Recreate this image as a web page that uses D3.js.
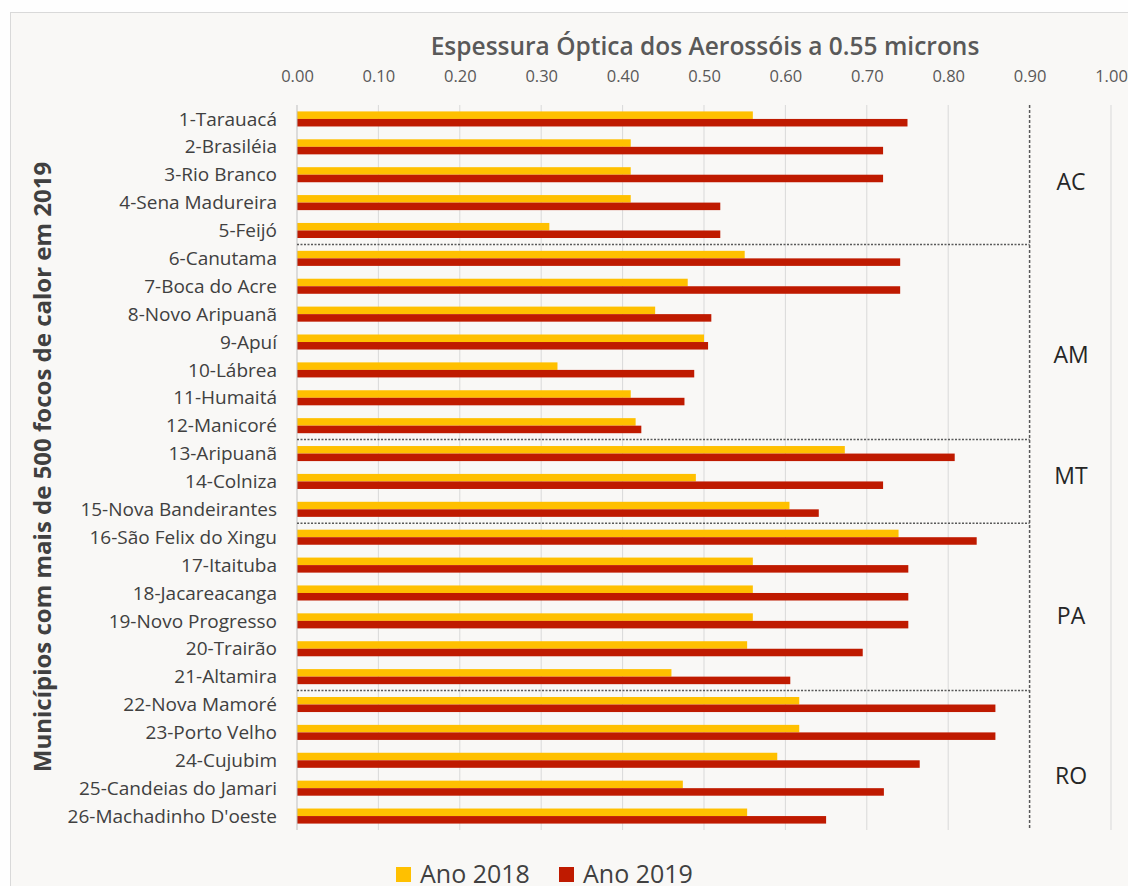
<!DOCTYPE html>
<html>
<head>
<meta charset="utf-8">
<script src="https://cdn.jsdelivr.net/npm/d3@7"></script>
<style>
  html, body { margin: 0; padding: 0; background: #fefefe; }
  svg { display: block; font-family: "Open Sans", sans-serif; }
</style>
</head>
<body>
<svg width="1128" height="886"></svg>
<script>
// Municipalities (ordered as in the chart)
const categories = [
  '1-Tarauacá', '2-Brasiléia', '3-Rio Branco', '4-Sena Madureira', '5-Feijó',
  '6-Canutama', '7-Boca do Acre', '8-Novo Aripuanã', '9-Apuí', '10-Lábrea',
  '11-Humaitá', '12-Manicoré', '13-Aripuanã', '14-Colniza', '15-Nova Bandeirantes',
  '16-São Felix do Xingu', '17-Itaituba', '18-Jacareacanga', '19-Novo Progresso',
  '20-Trairão', '21-Altamira', '22-Nova Mamoré', '23-Porto Velho', '24-Cujubim',
  '25-Candeias do Jamari', "26-Machadinho D'oeste"
];

const ano2018 = [
  0.56, 0.41, 0.41, 0.41, 0.31, 0.55, 0.48, 0.44, 0.50, 0.32, 0.41, 0.416, 0.673,
  0.49, 0.605, 0.739, 0.56, 0.56, 0.56, 0.553, 0.46, 0.617, 0.617, 0.59, 0.474, 0.553
];

const ano2019 = [
  0.75, 0.72, 0.72, 0.52, 0.52, 0.741, 0.741, 0.509, 0.505, 0.488, 0.476, 0.423, 0.808,
  0.72, 0.641, 0.835, 0.751, 0.751, 0.751, 0.695, 0.606, 0.858, 0.858, 0.765, 0.721, 0.65
];

const seriesNames = ['Ano 2018', 'Ano 2019'];
const seriesColors = ['#ffc000', '#bf1a00'];

// States and how many municipalities belong to each
const states = ['AC', 'AM', 'MT', 'PA', 'RO'];
const stateCounts = [5, 7, 3, 6, 5];

const tickValues = [0, 0.1, 0.2, 0.3, 0.4, 0.5, 0.6, 0.7, 0.8, 0.9, 1.0];
const limitValue = 0.9;

const title = 'Espessura Óptica dos Aerossóis a 0.55 microns';
const yTitle = 'Municípios com mais de 500 focos de calor em 2019';

// Build rows
const rows = categories.map((c, i) => ({name: c, values: [ano2018[i], ano2019[i]]}));

const svg = d3.select('svg');

// Chart frame
svg.append('rect')
  .attr('x', 10.5).attr('y', 12.5)
  .attr('width', 1140).attr('height', 900)
  .attr('fill', '#f9f8f6')
  .attr('stroke', '#d9d9d9');

// Scales
const x = d3.scaleLinear().domain([0, 1]).range([297, 1111]);
const y = d3.scaleBand()
  .domain(categories)
  .range([105, 830])
  .paddingInner(0.46)
  .paddingOuter(0.23);
const ySub = d3.scaleBand().domain([0, 1]).range([0, y.bandwidth()]);

const yTop = y.range()[0], yBottom = y.range()[1];

// Gridlines
svg.append('g')
  .attr('class', 'grid')
  .selectAll('line')
  .data(tickValues.filter(t => t > 0 && t !== limitValue))
  .enter().append('line')
  .attr('x1', d => x(d)).attr('x2', d => x(d))
  .attr('y1', yTop).attr('y2', yBottom)
  .attr('stroke', '#d9d9d9')
  .attr('stroke-width', 1);

// Top axis labels
const axis = d3.axisTop(x)
  .tickValues(tickValues)
  .tickFormat(d3.format('.2f'))
  .tickSize(0)
  .tickPadding(0);

svg.append('g')
  .attr('transform', 'translate(0,82)')
  .call(axis)
  .call(g => g.select('.domain').remove())
  .selectAll('text')
  .attr('fill', '#595959')
  .attr('font-size', 16.5)
  .attr('font-family', '"Open Sans", sans-serif');

// Bars
const bars = svg.append('g').attr('class', 'bars')
  .selectAll('.row')
  .data(rows).enter()
  .append('g')
  .attr('class', 'row')
  .attr('transform', d => `translate(0,${y(d.name)})`);

bars.selectAll('rect')
  .data(d => d.values.map((v, k) => ({v, k})))
  .enter().append('rect')
  .attr('x', x(0))
  .attr('y', d => ySub(d.k))
  .attr('width', d => x(d.v) - x(0))
  .attr('height', ySub.bandwidth())
  .attr('fill', d => seriesColors[d.k]);

// Vertical axis line
svg.append('line')
  .attr('x1', x(0)).attr('x2', x(0))
  .attr('y1', yTop).attr('y2', yBottom)
  .attr('stroke', '#bfbfbf');

// Category labels
svg.append('g')
  .selectAll('text')
  .data(categories).enter()
  .append('text')
  .attr('x', 277)
  .attr('y', d => y(d) + y.bandwidth() / 2)
  .attr('dy', '0.35em')
  .attr('text-anchor', 'end')
  .attr('fill', '#404040')
  .attr('font-size', 19)
  .text(d => d);

// State separators
let cum = 0;
const boundaries = [];
const groups = states.map((s, i) => {
  const start = cum;
  cum += stateCounts[i];
  if (i < states.length - 1) boundaries.push(cum);
  return {state: s, start, end: cum};
});

svg.append('g')
  .selectAll('line')
  .data(boundaries).enter()
  .append('line')
  .attr('x1', x(0)).attr('x2', x(limitValue))
  .attr('y1', d => yTop + d * y.step())
  .attr('y2', d => yTop + d * y.step())
  .attr('stroke', '#595959')
  .attr('stroke-width', 1.5)
  .attr('stroke-dasharray', '2,1.5');

svg.append('line')
  .attr('x1', x(limitValue)).attr('x2', x(limitValue))
  .attr('y1', yTop).attr('y2', yBottom)
  .attr('stroke', '#595959')
  .attr('stroke-width', 1.5)
  .attr('stroke-dasharray', '3,2');

// State labels (hand-placed text boxes in the original, nudged from group center)
const stateLabelNudge = [7, 13, -5, 9, 16];
svg.append('g')
  .selectAll('text')
  .data(groups).enter()
  .append('text')
  .attr('x', 1071)
  .attr('y', (d, i) => yTop + (d.start + d.end) / 2 * y.step() + stateLabelNudge[i])
  .attr('dy', '0.35em')
  .attr('text-anchor', 'middle')
  .attr('fill', '#262626')
  .attr('font-size', 23)
  .text(d => d.state);

// Titles
svg.append('text')
  .attr('x', 705).attr('y', 55)
  .attr('text-anchor', 'middle')
  .attr('fill', '#595959')
  .attr('font-size', 24.5)
  .attr('font-weight', 600)
  .text(title);

svg.append('text')
  .attr('transform', 'translate(43,467) rotate(-90)')
  .attr('dy', '0.35em')
  .attr('text-anchor', 'middle')
  .attr('fill', '#404040')
  .attr('font-size', 24)
  .attr('font-weight', 700)
  .text(yTitle);

// Legend
const legend = svg.append('g')
  .selectAll('g')
  .data(seriesNames).enter()
  .append('g')
  .attr('transform', (d, i) => `translate(${[396, 559][i]},867)`);

legend.append('rect')
  .attr('width', 15).attr('height', 15)
  .attr('fill', (d, i) => seriesColors[i]);

legend.append('text')
  .attr('x', 24).attr('y', 16)
  .attr('fill', '#404040')
  .attr('font-size', 25)
  .text(d => d);
</script>
</body>
</html>
